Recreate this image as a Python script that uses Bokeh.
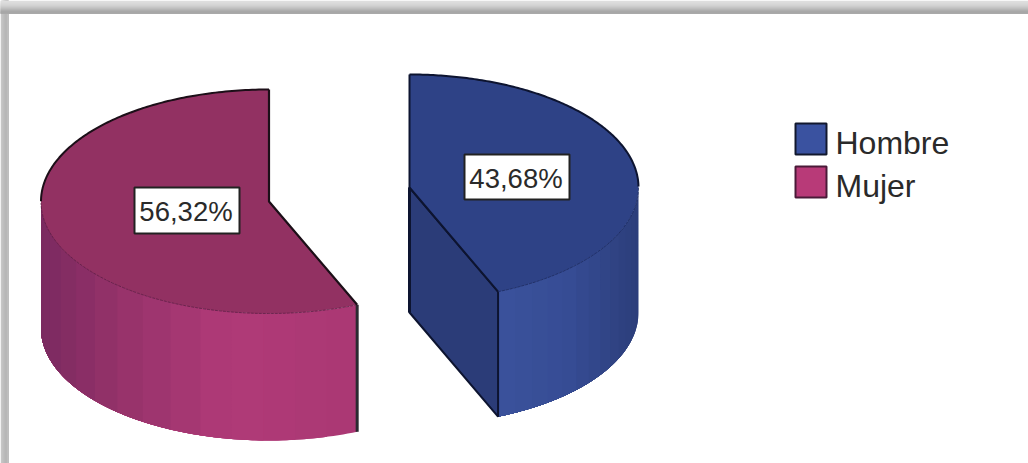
import numpy as np
from bokeh.embed import file_html
from bokeh.models import Range1d
from bokeh.plotting import figure
from bokeh.resources import INLINE

# Survey shares by sex
categories = ["Hombre", "Mujer"]
shares = [43.68, 56.32]
share_labels = ["43,68%", "56,32%"]

W, H = 1028, 463
FONT = "Liberation Sans"

p = figure(width=W, height=H, output_backend="svg", toolbar_location=None,
           x_range=Range1d(0, W), y_range=Range1d(H, 0),
           min_border=0, outline_line_color=None, background_fill_color="white")
p.axis.visible = False
p.grid.visible = False

# Soft frame shadow along the top and left edges; each band overlaps the next to avoid seams
frame_left = ["#c8c8c8", "#c4c4c4", "#c0c0c0", "#bcbcbc", "#b8b8b8", "#b6b6b6", "#b8b8b8", "#c4c4c4"]
for i, c in enumerate(frame_left):
    p.quad(left=i, right=8, top=0, bottom=H, fill_color=c, line_color=None)
frame_top = ["#dedede", "#dddddd", "#dbdbdb", "#d8d8d8", "#d4d4d4", "#cfcfcf", "#c9c9c9", "#c2c2c2",
             "#bababa", "#b2b2b2", "#aaaaaa", "#a6a6a6", "#a8a8a8"]
for i, c in enumerate(frame_top):
    p.quad(left=0, right=W, top=i, bottom=13, fill_color=c, line_color=None)


def rim(cx, cy, a, b, t):
    """Points on the top rim; t is the clockwise angle from twelve o'clock, in degrees."""
    r = np.radians(t)
    return cx + a * np.sin(r), cy - b * np.cos(r)


def draw_slice(cx, cy, a, b, depth, t0, t1, top_color, side_stops, cut_color=None):
    """One extruded slice spanning clockwise angles t0..t1 around a centre on the top face."""
    # curved outer wall in flat shaded bands, each painted over the remainder of the wall
    lo, hi = max(t0, 90), min(t1, 270)
    edges = np.linspace(lo, hi, 15)
    xs_stops, cs = zip(*side_stops)
    for k in range(len(edges) - 1):
        t = np.linspace(edges[k], hi, 90)
        x, y = rim(cx, cy, a, b, t)
        mid = rim(cx, cy, a, b, (edges[k] + edges[k + 1]) / 2)[0]
        col = [np.interp(mid, xs_stops, [c[j] for c in cs]) for j in range(3)]
        colour = "#%02x%02x%02x" % tuple(int(round(v)) for v in col)
        p.patch(np.r_[x, x[::-1]], np.r_[y, y[::-1] + depth], fill_color=colour, line_color=None)

    ts = np.linspace(t0, t1, 240)
    tx, ty = rim(cx, cy, a, b, ts)
    # radial cut wall of the slice, visible when it faces the viewer
    if cut_color is not None:
        ex, ey = rim(cx, cy, a, b, t1)
        p.patch([cx, ex, ex, cx], [cy, ey, ey + depth, cy + depth],
                fill_color=cut_color, line_color="#0d1430", line_width=2)
    # top face
    p.patch(np.r_[cx, tx], np.r_[cy, ty], fill_color=top_color, line_color=None)
    return ts, tx, ty


# Hombre: clockwise from twelve o'clock
h_sweep = shares[0] * 3.6
h_cx, h_cy, h_a, h_b, h_depth = 409, 187, 229, 113, 125
ts, hx, hy = draw_slice(h_cx, h_cy, h_a, h_b, h_depth, 0, h_sweep, "#2e4286",
                        [(498, (58, 82, 156)), (570, (54, 76, 148)), (638, (44, 62, 122))],
                        cut_color="#2b3c78")
back = ts <= 90
p.line(hx[back], hy[back], line_color="#0d1430", line_width=2)
p.line(hx[~back], hy[~back], line_color="#1e2c60", line_width=0.8, line_dash="3 1")
ex, ey = rim(h_cx, h_cy, h_a, h_b, h_sweep)
p.line([h_cx, h_cx, ex], [hy[0], h_cy, ey], line_color="#0d1430", line_width=2)
p.line([h_cx, h_cx], [h_cy, h_cy + h_depth], line_color="#0d1430", line_width=3)

# Mujer: the rest of the turn, ending at twelve o'clock
m_cx, m_cy, m_a, m_b, m_depth = 268.5, 201, 228, 112, 127
ts, mx, my = draw_slice(m_cx, m_cy, m_a, m_b, m_depth, h_sweep, 360, "#923162",
                        [(40, (122, 42, 96)), (120, (150, 50, 106)), (230, (176, 58, 120)),
                         (356, (170, 56, 116))])
p.line([mx[0], mx[0]], [my[0], my[0] + m_depth], line_color="#2a2a30", line_width=3)
back = ts >= 270
p.line(mx[~back], my[~back], line_color="#5e1f46", line_width=0.8, line_dash="3 1")
p.line(mx[back], my[back], line_color="#1c0f18", line_width=2)
p.line([m_cx, m_cx, mx[0]], [my[-1], m_cy, my[0]], line_color="#1c0f18", line_width=2.2)

# Value labels on the top faces
for (x0, x1, y0, y1), label in zip([(464, 569, 154, 199), (134, 239, 187, 233)], share_labels):
    p.quad(left=x0, right=x1, top=y0, bottom=y1, fill_color="white",
           line_color="#222222", line_width=2)
    p.text(x=[(x0 + x1) / 2 - 1], y=[(y0 + y1) / 2 + 1], text=[label], text_align="center",
           text_baseline="middle", text_font_size="27.5px", text_color="#2a2a2a",
           text_font={"value": FONT})

# Legend
for (y0, colour, edge), name in zip([(123, "#3a52a0", "#12182e"), (166, "#b83a78", "#4a1a38")], categories):
    p.quad(left=795, right=826, top=y0, bottom=y0 + 31, fill_color=colour,
           line_color=edge, line_width=2)
    p.text(x=[835], y=[y0 + 19], text=[name], text_align="left", text_baseline="middle",
           text_font_size="32px", text_color="#2a2a2a", text_font={"value": FONT})

open("out.html", "w").write(file_html(p, INLINE))
